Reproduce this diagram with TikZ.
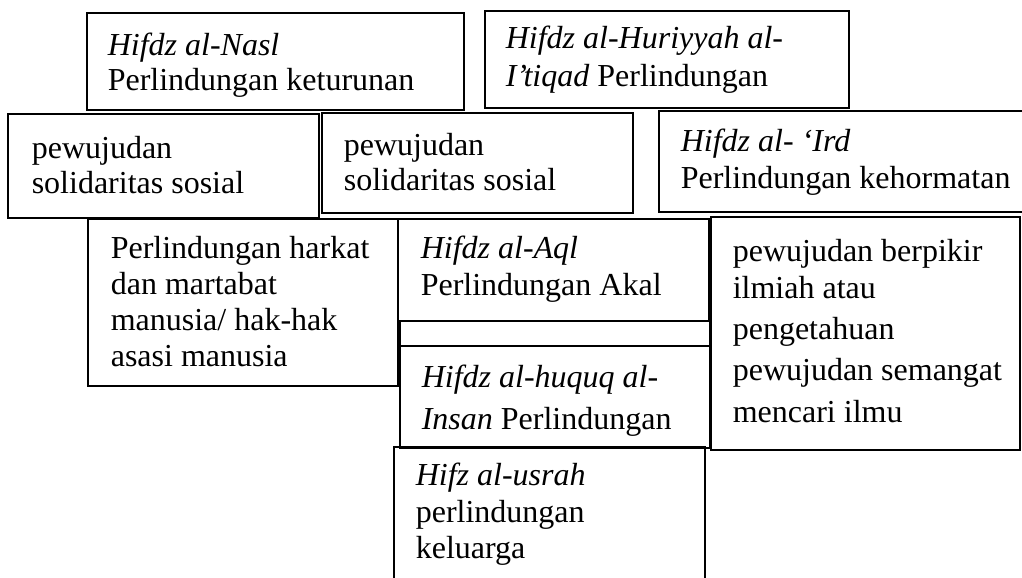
\documentclass[tikz,border=0pt]{standalone}
\usepackage{fontspec}
\setmainfont{Liberation Serif}
\begin{document}
\begin{tikzpicture}[x=.375pt,y=-.375pt,line width=.6pt,txt/.style={anchor=north west,align=left,inner sep=0pt,font=\fontsize{12}{13.8}\selectfont}]
\useasboundingbox (0,0) rectangle (1022,578);\clip (0,0) rectangle (1022,578);
\draw (87,13) rectangle (464,110);\node[txt,font=\fontsize{12}{13.2}\selectfont] (nasl) at (107,32){\textit{Hifdz al-Nasl}\\Perlindungan keturunan};
\draw (485,11) rectangle (849,108);\node[txt,font=\fontsize{12}{14.2}\selectfont] (huriyyah) at (505,25){\textit{Hifdz al-Huriyyah al-}\\\textit{I’tiqad} Perlindungan};
\draw (8,114) rectangle (319,218);\node[txt,font=\fontsize{12}{13.2}\selectfont] (sosiala) at (31,135){pewujudan\\solidaritas sosial};
\draw (322,113) rectangle (633,213);\node[txt,font=\fontsize{12}{13.2}\selectfont] (sosialb) at (343,132){pewujudan\\solidaritas sosial};
\draw (659,111) rectangle (1040,212);\node[txt] (ird) at (680,128){\textit{Hifdz al- ‘Ird}\\Perlindungan kehormatan};
\draw (88,219) rectangle (398,386);\node[txt,font=\fontsize{12}{13.5}\selectfont] (harkat) at (110,235){Perlindungan harkat\\dan martabat\\manusia/ hak-hak\\asasi manusia};
\draw (398,219) rectangle (709,321);\node[txt] (aql) at (420,235){\textit{Hifdz al-Aql}\\Perlindungan Akal};
\draw (400,321) rectangle (710,346);
\draw (400,346) rectangle (710,448);\node[txt,font=\fontsize{12}{15.75}\selectfont] (huquq) at (421,364){\textit{Hifdz al-huquq al-}\\\textit{Insan} Perlindungan};
\draw (711,217) rectangle (1020,450);\node[txt,font=\fontsize{12}{15.5}\selectfont] (berpikir) at (732,238){pewujudan berpikir\\[-1.6pt]ilmiah atau\\pengetahuan\\pewujudan semangat\\mencari ilmu};
\draw (394,447) rectangle (705,600);\node[txt] (usrah) at (415,462){\textit{Hifz al-usrah}\\perlindungan\\keluarga};
\end{tikzpicture}
\end{document}
